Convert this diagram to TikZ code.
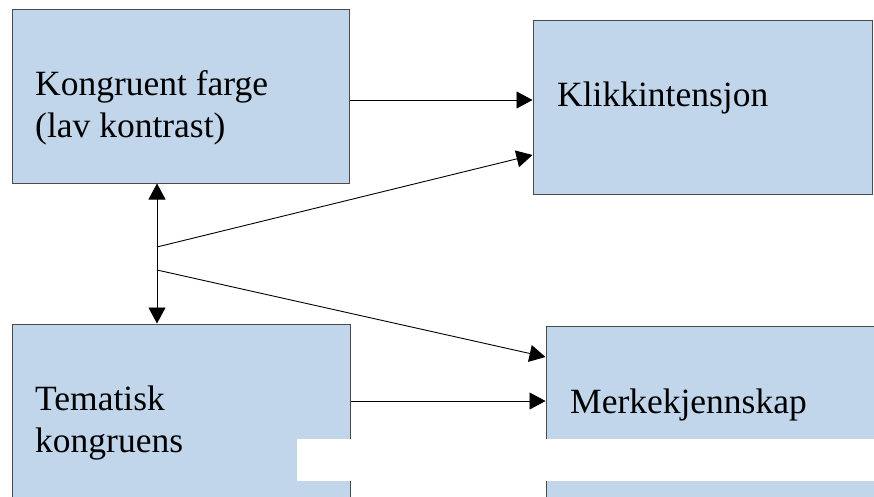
\documentclass[tikz,border=0pt]{standalone}
\usepackage{fontspec}
\setmainfont{Liberation Serif}
\usetikzlibrary{arrows.meta}
\definecolor{boxfill}{HTML}{C2D6EB}
\definecolor{boxline}{HTML}{4A4A4A}
\tikzset{
  box/.style={draw=boxline, line width=1pt, fill=boxfill, rectangle, inner sep=0pt},
  lbl/.style={anchor=base west, inner sep=0pt, align=left, font=\fontsize{35.5}{42}\selectfont},
  arr/.style={line width=0.9pt, -{Triangle[length=16pt,width=17pt]}},
  darr/.style={line width=0.9pt, {Triangle[length=16pt,width=17pt]}-{Triangle[length=16pt,width=17pt]}},
}
\begin{document}
\begin{tikzpicture}[x=1pt,y=-1pt]
\useasboundingbox (0,0) rectangle (874,497);
\begin{scope}
\clip (0,0) rectangle (874,497);
\node[box, minimum width=337pt, minimum height=173pt] (b1) at (180.5,96.5) {};
\node[box, minimum width=339pt, minimum height=173pt] (b2) at (702.5,107.5) {};
\node[box, minimum width=338pt, minimum height=180pt] (b3) at (181,414) {};
\node[box, minimum width=340pt, minimum height=180pt] (b4) at (716,416) {};
\end{scope}
\node[lbl] (t1) at (35,138) {Kongruent farge\\(lav kontrast)};
\node[lbl] (t2) at (557,107) {Klikkintensjon};
\node[lbl] (t3) at (35,452) {Tematisk\\kongruens};
\node[lbl] (t4) at (570,413) {Merkekjennskap};
\coordinate (v) at (157,0);
\coordinate (f1) at (157,247);
\coordinate (f2) at (157,270);
\coordinate (ya) at (0,100);
\coordinate (yb) at (0,155);
\coordinate (yc) at (0,357);
\coordinate (yd) at (0,401);
\draw[arr] (b1.east |- ya) -- (b2.west |- ya);
\draw[darr] (b1.south -| v) -- (b3.north -| v);
\draw[arr] (f1) -- (b2.west |- yb);
\draw[arr] (f2) -- (b4.west |- yc);
\draw[arr] (b3.east |- yd) -- (b4.west |- yd);
\fill[white] (297,439) rectangle (874,481);
\end{tikzpicture}
\end{document}
